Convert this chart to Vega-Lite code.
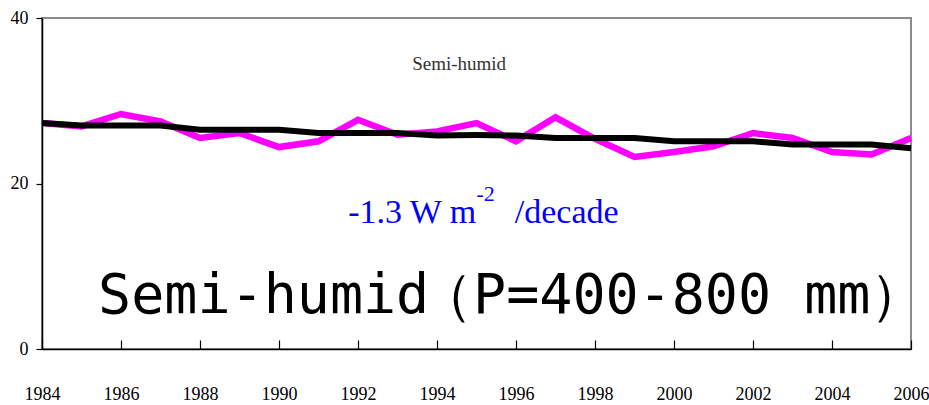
{
  "$schema": "https://vega.github.io/schema/vega-lite/v6.json",
  "width": 869,
  "height": 331,
  "autosize": "none",
  "padding": {"left": 42, "top": 18, "right": 18, "bottom": 56},
  "background": "white",
  "config": {
    "view": {"stroke": "#8c8c8c", "strokeWidth": 2},
    "axis": {"grid": false, "domainColor": "black", "domainWidth": 1.5, "tickColor": "black", "tickWidth": 1.2, "labelFont": "Liberation Serif", "labelFontWeight": "normal", "labelFontSize": 18, "labelColor": "black", "title": null}
  },
  "datasets": {
    "series": [
      {"year": 1984, "obs": 27.3, "trend": 27.3},
      {"year": 1985, "obs": 26.9, "trend": 27.0},
      {"year": 1986, "obs": 28.4, "trend": 27.0},
      {"year": 1987, "obs": 27.5, "trend": 27.0},
      {"year": 1988, "obs": 25.5, "trend": 26.5},
      {"year": 1989, "obs": 26.1, "trend": 26.5},
      {"year": 1990, "obs": 24.4, "trend": 26.5},
      {"year": 1991, "obs": 25.1, "trend": 26.1},
      {"year": 1992, "obs": 27.7, "trend": 26.1},
      {"year": 1993, "obs": 25.9, "trend": 26.1},
      {"year": 1994, "obs": 26.3, "trend": 25.8},
      {"year": 1995, "obs": 27.3, "trend": 25.85},
      {"year": 1996, "obs": 25.1, "trend": 25.8},
      {"year": 1997, "obs": 28.0, "trend": 25.5},
      {"year": 1998, "obs": 25.4, "trend": 25.5},
      {"year": 1999, "obs": 23.2, "trend": 25.5},
      {"year": 2000, "obs": 23.8, "trend": 25.1},
      {"year": 2001, "obs": 24.5, "trend": 25.1},
      {"year": 2002, "obs": 26.1, "trend": 25.1},
      {"year": 2003, "obs": 25.5, "trend": 24.7},
      {"year": 2004, "obs": 23.8, "trend": 24.7},
      {"year": 2005, "obs": 23.5, "trend": 24.7},
      {"year": 2006, "obs": 25.5, "trend": 24.25}
    ]
  },
  "layer": [
    {"data": {"name": "series"}, "mark": {"type": "line", "color": "#ff00ff", "strokeWidth": 6.5, "strokeJoin": "miter"},
      "encoding": {
        "x": {"field": "year", "type": "quantitative", "scale": {"domain": [1984, 2006], "nice": false, "zero": false},
          "axis": {"values": [1984, 1986, 1988, 1990, 1992, 1994, 1996, 1998, 2000, 2002, 2004, 2006], "format": "d", "tickSize": -9, "labelPadding": 54, "labelBaseline": "middle", "labelFlush": false, "labelOverlap": false}},
        "y": {"field": "obs", "type": "quantitative", "scale": {"domain": [0, 40], "nice": false}, "axis": {"values": [0, 20, 40], "tickSize": 6, "labelPadding": 8}}
      }},
    {"data": {"name": "series"}, "mark": {"type": "line", "color": "black", "strokeWidth": 6},
      "encoding": {"x": {"field": "year", "type": "quantitative"}, "y": {"field": "trend", "type": "quantitative"}}},
    {"data": {"values": [{"label": "Semi-humid"}]}, "mark": {"type": "text", "font": "Liberation Serif", "fontSize": 19, "fill": "#333333", "align": "center", "baseline": "alphabetic"},
      "encoding": {"text": {"field": "label"}, "x": {"datum": 1994.56, "type": "quantitative"}, "y": {"datum": 33.72, "type": "quantitative"}}},
    {"data": {"values": [{"label": "-1.3 W m"}]}, "mark": {"type": "text", "font": "Liberation Serif", "fontSize": 34, "fill": "#0000ff", "align": "left", "baseline": "alphabetic"},
      "encoding": {"text": {"field": "label"}, "x": {"datum": 1991.75, "type": "quantitative"}, "y": {"datum": 15.23, "type": "quantitative"}}},
    {"data": {"values": [{"label": "-2"}]}, "mark": {"type": "text", "font": "Liberation Serif", "fontSize": 22, "fill": "#0000ff", "align": "left", "baseline": "alphabetic"},
      "encoding": {"text": {"field": "label"}, "x": {"datum": 1995.0, "type": "quantitative"}, "y": {"datum": 17.9, "type": "quantitative"}}},
    {"data": {"values": [{"label": "/decade"}]}, "mark": {"type": "text", "font": "Liberation Serif", "fontSize": 34, "fill": "#0000ff", "align": "left", "baseline": "alphabetic"},
      "encoding": {"text": {"field": "label"}, "x": {"datum": 1995.97, "type": "quantitative"}, "y": {"datum": 15.23, "type": "quantitative"}}},
    {"data": {"values": [{"label": "Semi-humid"}]}, "mark": {"type": "text", "font": "DejaVu Sans Mono", "fontSize": 55, "fill": "black", "align": "left", "baseline": "alphabetic"},
      "encoding": {"text": {"field": "label"}, "x": {"datum": 1985.42, "type": "quantitative"}, "y": {"datum": 4.35, "type": "quantitative"}}},
    {"data": {"values": [{"label": "（P=400-800 mm）"}]}, "mark": {"type": "text", "font": "DejaVu Sans Mono", "fontSize": 55, "fill": "black", "align": "left", "baseline": "alphabetic"},
      "encoding": {"text": {"field": "label"}, "x": {"datum": 1993.52, "type": "quantitative"}, "y": {"datum": 4.35, "type": "quantitative"}}}
  ]
}
